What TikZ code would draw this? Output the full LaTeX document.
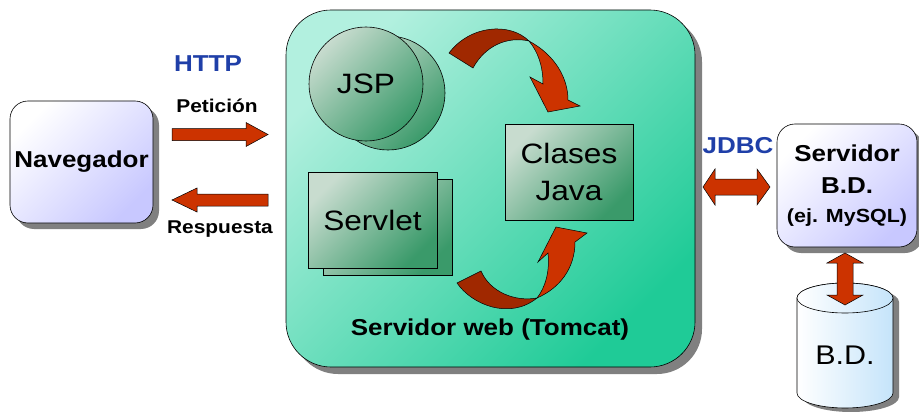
\documentclass[tikz,border=0pt]{standalone}
\usepackage{fontspec}
\setmainfont[FakeStretch=1.13]{Liberation Sans}
\usetikzlibrary{shadows}
\definecolor{arrred}{HTML}{CC3300}
\definecolor{arrdark}{HTML}{A02800}
\definecolor{lblue}{HTML}{1F3FA8}
\definecolor{shgray}{HTML}{808080}
\definecolor{lav}{HTML}{C8C8FF}
\definecolor{srvlight}{HTML}{B2F0DF}
\definecolor{srvdark}{HTML}{1FCB97}
\definecolor{inlight}{HTML}{C8DCCF}
\definecolor{indark}{HTML}{3A9A6A}
\definecolor{cylblue}{HTML}{C5E4FA}
\newcommand\setfs[2]{\fontsize{#1}{#2}\selectfont}
\begin{document}
\begin{tikzpicture}[x=1pt,y=-1pt,
  shbox/.style={draw=black, line width=0.6pt, drop shadow={shadow xshift=6pt,shadow yshift=-6pt,fill=shgray,opacity=1}},
  lavbox/.style={shbox, rounded corners=18pt, top color=white, bottom color=lav, shading angle=45},
  inner/.style={draw=black, line width=0.6pt, top color=inlight, bottom color=indark, shading angle=45},
  barrow/.style={fill=arrred, draw=black, line width=0.5pt},
  darrow/.style={fill=arrdark, draw=black, line width=0.5pt},
  lbl/.style={font=\bfseries\setfs{18.5}{22}},
  proto/.style={font=\bfseries\setfs{23}{28}, text=lblue},
  big/.style={font=\setfs{28}{37}, align=center}]
\useasboundingbox (0,0) rectangle (919,412);
\fill[white] (0,0) rectangle (919,412);

% Navegador
\node[lavbox, minimum width=143pt, minimum height=122pt, font=\bfseries\setfs{23}{28}] (nav) at (81.5,162) {Navegador};

% HTTP labels
\node[proto] (http) at (208,64) {HTTP};
\node[lbl] (pet) at (217,106) {Petición};
\node[lbl] (resp) at (220,229) {Respuesta};

% request / response arrows
\draw[barrow] (172,128.5) -- (246,128.5) -- (246,122.5) -- (268,134.5) -- (246,146.5) -- (246,140.5) -- (172,140.5) -- cycle;
\draw[barrow] (268,194) -- (197,194) -- (197,188) -- (172,200) -- (197,212) -- (197,206) -- (268,206) -- cycle;

% Web server
\node[shbox, drop shadow={shadow xshift=7pt,shadow yshift=-7pt,fill=shgray,opacity=1}, rounded corners=45pt, minimum width=409pt, minimum height=357pt, top color=srvlight, bottom color=srvdark, shading angle=45] (web) at (490.5,188.5) {};

% JSP
\node[inner, circle, minimum size=114pt] (jspb) at (388,93) {};
\node[inner, circle, minimum size=114pt, font=\setfs{28}{34}] (jsp) at (366,84) {JSP};

% Servlet
\node[inner, minimum width=129pt, minimum height=96pt] (servb) at (387.5,227) {};
\node[inner, minimum width=129pt, minimum height=96pt, font=\setfs{28}{34}] (serv) at (372.5,220) {Servlet};

% Clases Java
\node[inner, minimum width=128pt, minimum height=96pt, big] (cls) at (569,172) {Clases\\Java};

% curved arrows
\draw[darrow] (449,53) .. controls (470,25) and (510,22) .. (529,41) .. controls (507,36) and (485,46) .. (473,68) -- cycle;
\draw[barrow] (529,41) .. controls (555,55) and (568,78) .. (568,100) -- (580,106) -- (548,112) -- (530,77) -- (543,84) .. controls (543,66) and (538,52) .. (529,41) -- cycle;

\draw[darrow] (457,283) .. controls (472,305) and (510,320) .. (537,298) .. controls (515,302) and (490,292) .. (481,271) -- cycle;
\draw[barrow] (537,298) .. controls (560,288) and (575,268) .. (575,242) -- (587,233) -- (556,227) -- (538,262) -- (548,253) .. controls (550,272) and (545,288) .. (537,298) -- cycle;

\node[font=\bfseries\setfs{23}{28}] (weblbl) at (490,330) {Servidor web (Tomcat)};

% JDBC
\node[proto] (jdbc) at (738,146) {JDBC};
\draw[barrow] (703,187) -- (715,169) -- (715,179) -- (757,179) -- (757,169) -- (770,187) -- (757,205) -- (757,195) -- (715,195) -- (715,205) -- cycle;

% DB server
\node[lavbox, minimum width=140pt, minimum height=123pt, align=center, font=\bfseries\setfs{23}{32}] (dbs) at (847,185.5) {Servidor\\B.D.\\[-3pt]{\setfs{19}{24}(ej. MySQL)}};

% cylinder
\fill[shgray] (803,302) -- (803,397) arc[start angle=180,end angle=0,x radius=48,y radius=15] -- (899,302) arc[start angle=0,end angle=-180,x radius=48,y radius=15] -- cycle;
\draw[line width=0.6pt, left color=white, right color=cylblue] (797,298) -- (797,393) arc[start angle=180,end angle=0,x radius=48,y radius=15] -- (893,298) arc[start angle=0,end angle=-180,x radius=48,y radius=15] -- cycle;
\draw[line width=0.6pt, left color=white, right color=cylblue] (845,298) ellipse[x radius=48,y radius=15];
\node[font=\setfs{27}{32}] (bd) at (845,355) {B.D.};

\draw[barrow] (845,253) -- (863,263) -- (853,263) -- (853,295) -- (863,295) -- (845,305) -- (827,295) -- (837,295) -- (837,263) -- (827,263) -- cycle;
\end{tikzpicture}
\end{document}
